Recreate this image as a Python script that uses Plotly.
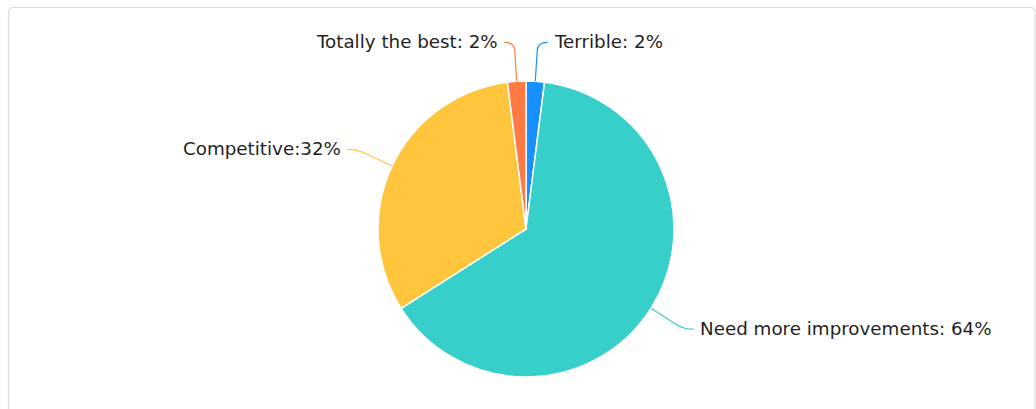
import math
import plotly.graph_objects as go

# ---- data ----
categories = ["Terrible", "Need more improvements", "Competitive", "Totally the best"]
values = [2, 64, 32, 2]
label_texts = ["Terrible: 2%", "Need more improvements: 64%", "Competitive:32%", "Totally the best: 2%"]
colors = ["#1890FF", "#36CFC9", "#FFC53D", "#FF7A45"]

# ---- layout constants (pixels) ----
W, H = 1036, 409
CX, CY, R = 526, 229, 148
LEAD = 39      # radial leader length
ELBOW = 8      # straight part before bend
HOOK = 10      # horizontal end of leader
GAP = 4        # gap between leader end and text

def px(x):
    return x / W

def py(y):
    return 1 - y / H

fig = go.Figure()
fig.add_trace(go.Pie(
    labels=categories,
    values=values,
    sort=False,
    direction="clockwise",
    rotation=0,
    marker=dict(colors=colors, line=dict(color="white", width=1.5)),
    textinfo="none",
    hoverinfo="label+percent",
    showlegend=False,
    domain=dict(x=[px(CX - R), px(CX + R)], y=[py(CY + R), py(CY - R)]),
))

shapes = []
annotations = []
total = sum(values)
cum = 0
for cat, v, txt, col in zip(categories, values, label_texts, colors):
    mid = (cum + v / 2) / total * 2 * math.pi
    cum += v
    dx, dy = math.sin(mid), -math.cos(mid)
    side = 1 if dx >= 0 else -1
    p0 = (CX + R * dx, CY + R * dy)
    p1 = (CX + (R + LEAD - ELBOW) * dx, CY + (R + LEAD - ELBOW) * dy)
    ctrl = (CX + (R + LEAD) * dx, CY + (R + LEAD) * dy)
    end = (ctrl[0] + side * HOOK, ctrl[1])
    path = "M {},{} L {},{} Q {},{} {},{}".format(
        px(p0[0]), py(p0[1]), px(p1[0]), py(p1[1]),
        px(ctrl[0]), py(ctrl[1]), px(end[0]), py(end[1]))
    shapes.append(dict(type="path", xref="paper", yref="paper", path=path,
                       line=dict(color=col, width=1.2)))
    annotations.append(dict(
        x=px(end[0] + side * GAP), y=py(end[1] - 1), xref="paper", yref="paper",
        text=txt, showarrow=False,
        xanchor="left" if side > 0 else "right", yanchor="middle",
        font=dict(family="DejaVu Sans", size=18.3, color="#1f1f1f"),
    ))

# card border with rounded top corners
bx0, by0, bx1, by1, rr = 8.5, 7.5, 1035, 440, 5
border = ("M {},{} L {},{} Q {},{} {},{} L {},{} Q {},{} {},{} L {},{}").format(
    px(bx0), py(by1), px(bx0), py(by0 + rr), px(bx0), py(by0), px(bx0 + rr), py(by0),
    px(bx1 - rr), py(by0), px(bx1), py(by0), px(bx1), py(by0 + rr), px(bx1), py(by1))
shapes.append(dict(type="path", xref="paper", yref="paper", path=border,
                   line=dict(color="#dcdcdc", width=1.2), layer="below"))

fig.update_layout(
    width=W, height=H, autosize=False,
    margin=dict(l=0, r=0, t=0, b=0),
    paper_bgcolor="white", plot_bgcolor="white",
    shapes=shapes, annotations=annotations,
    showlegend=False,
)

fig.write_html(
    "out.html",
    config={"displayModeBar": False},
    post_script="document.body.style.margin='0';document.body.style.overflow='hidden';",
)
